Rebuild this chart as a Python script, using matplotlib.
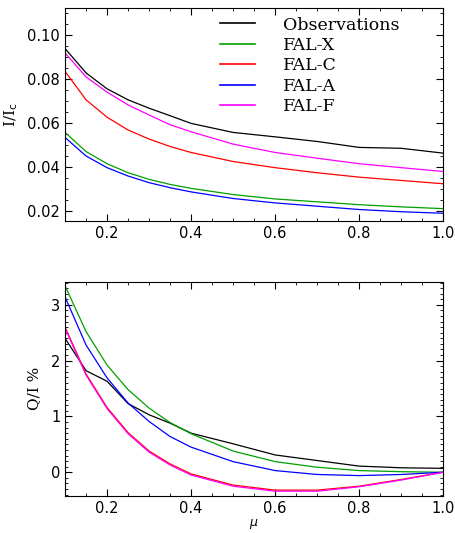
import matplotlib
matplotlib.use("Agg")
import matplotlib.pyplot as plt
from matplotlib.ticker import MultipleLocator

# limb distance mu
mu = [0.1, 0.15, 0.2, 0.25, 0.3, 0.35, 0.4, 0.5, 0.6, 0.7, 0.8, 0.9, 1.0]

# I/Ic
i_obs = [0.0939, 0.0828, 0.0756, 0.0706, 0.0668, 0.0634, 0.0599, 0.0558, 0.0538, 0.0517, 0.0490, 0.0486, 0.0464]
i_falx = [0.0558, 0.0471, 0.0416, 0.0375, 0.0345, 0.0322, 0.0304, 0.0276, 0.0256, 0.0243, 0.0230, 0.0220, 0.0212]
i_falc = [0.0835, 0.0706, 0.0627, 0.0569, 0.0528, 0.0494, 0.0467, 0.0426, 0.0398, 0.0375, 0.0355, 0.0340, 0.0325]
i_fala = [0.0535, 0.0451, 0.0398, 0.0360, 0.0330, 0.0307, 0.0288, 0.0258, 0.0238, 0.0223, 0.0208, 0.0198, 0.0191]
i_falf = [0.0919, 0.0810, 0.0741, 0.0683, 0.0637, 0.0593, 0.0561, 0.0505, 0.0467, 0.0441, 0.0416, 0.0398, 0.0381]

# Q/I in %
q_obs = [2.40, 1.82, 1.63, 1.23, 1.03, 0.88, 0.70, 0.51, 0.31, 0.21, 0.11, 0.08, 0.07]
q_falx = [3.34, 2.52, 1.92, 1.48, 1.15, 0.89, 0.69, 0.38, 0.19, 0.09, 0.03, 0.01, 0.00]
q_falc = [2.60, 1.76, 1.16, 0.71, 0.38, 0.15, -0.03, -0.23, -0.32, -0.32, -0.25, -0.13, 0.00]
q_fala = [3.14, 2.28, 1.69, 1.24, 0.91, 0.64, 0.45, 0.19, 0.03, -0.04, -0.06, -0.04, 0.00]
q_falf = [2.58, 1.74, 1.14, 0.69, 0.36, 0.13, -0.05, -0.25, -0.34, -0.34, -0.26, -0.14, 0.00]

names = ["Observations", "FAL-X", "FAL-C", "FAL-A", "FAL-F"]
colors = ["black", "#00a000", "#ff0000", "#0000ff", "#ff00ff"]

fig = plt.figure(figsize=(4.55, 5.33), dpi=100)
ax1 = fig.add_axes([0.143, 0.585, 0.831, 0.400])
ax2 = fig.add_axes([0.143, 0.070, 0.831, 0.401])

for y, c, n in zip([i_obs, i_falx, i_falc, i_fala, i_falf], colors, names):
    ax1.plot(mu, y, color=c, lw=0.9, label=n)
for y, c in zip([q_obs, q_falx, q_falc, q_fala, q_falf], colors):
    ax2.plot(mu, y, color=c, lw=0.9)

ax1.set_xlim(0.1, 1.0)
ax1.set_ylim(0.0155, 0.1123)
ax1.yaxis.set_major_locator(MultipleLocator(0.02))
ax1.yaxis.set_minor_locator(MultipleLocator(0.005))
ax1.set_ylabel(r"I/I$_{\rm c}$", fontsize=11, family="serif", labelpad=5)
ax1.yaxis.set_major_formatter(matplotlib.ticker.FormatStrFormatter("%.2f"))

ax2.set_xlim(0.1, 1.0)
ax2.set_ylim(-0.42, 3.41)
ax2.yaxis.set_major_locator(MultipleLocator(1))
ax2.yaxis.set_minor_locator(MultipleLocator(0.1))
ax2.set_ylabel("Q/I %", fontsize=11, family="serif", labelpad=7)
ax2.set_xlabel(r"$\mu$", fontsize=9, labelpad=1)

for ax in (ax1, ax2):
    ax.xaxis.set_major_locator(MultipleLocator(0.2))
    ax.xaxis.set_minor_locator(MultipleLocator(0.05))
    ax.xaxis.set_major_formatter(matplotlib.ticker.FormatStrFormatter("%.1f"))
    ax.tick_params(which="both", direction="in", top=True, right=True, labelsize=10.5)
    ax.tick_params(which="major", length=5)
    ax.tick_params(which="minor", length=2.5)

leg = ax1.legend(loc="upper left", bbox_to_anchor=(0.41, 0.96), frameon=False,
                 prop={"family": "serif", "size": 12.5},
                 handlelength=2.0, handletextpad=1.6, labelspacing=0.2,
                 borderaxespad=0, borderpad=0)
for h in leg.legend_handles:
    h.set_linewidth(1.2)

fig.savefig("out.png", dpi=100)
